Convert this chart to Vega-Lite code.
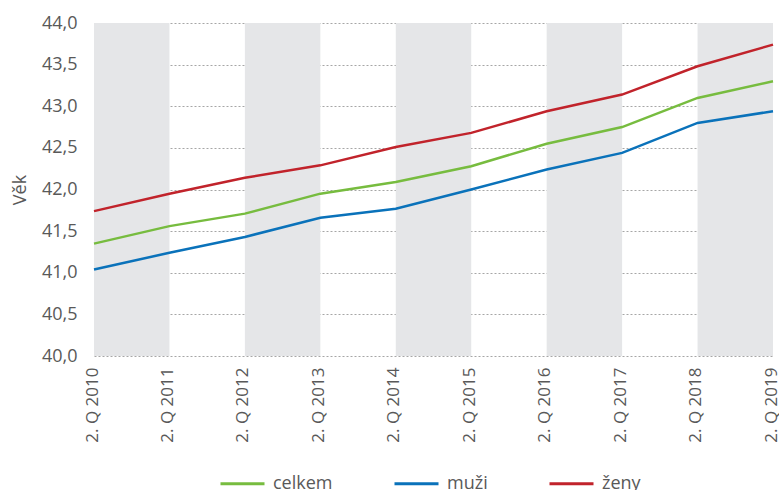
{
  "$schema": "https://vega.github.io/schema/vega-lite/v6.json",
  "width": 679,
  "height": 333,
  "autosize": {"type": "none"},
  "padding": {"left": 94, "top": 23, "right": 6, "bottom": 134},
  "background": "white",
  "config": {
    "view": {"stroke": null},
    "font": "Open Sans",
    "axis": {"labelFont": "Open Sans", "titleFont": "Open Sans", "labelColor": "#595959", "titleColor": "#595959"},
    "legend": {"labelFont": "Open Sans", "labelColor": "#595959"}
  },
  "datasets": {
    "bands": [
      {"start": 2010, "end": 2011},
      {"start": 2012, "end": 2013},
      {"start": 2014, "end": 2015},
      {"start": 2016, "end": 2017},
      {"start": 2018, "end": 2019}
    ],
    "series": [
      {"q": 2010, "serie": "celkem", "v": 41.35},
      {"q": 2011, "serie": "celkem", "v": 41.56},
      {"q": 2012, "serie": "celkem", "v": 41.71},
      {"q": 2013, "serie": "celkem", "v": 41.95},
      {"q": 2014, "serie": "celkem", "v": 42.09},
      {"q": 2015, "serie": "celkem", "v": 42.28},
      {"q": 2016, "serie": "celkem", "v": 42.55},
      {"q": 2017, "serie": "celkem", "v": 42.75},
      {"q": 2018, "serie": "celkem", "v": 43.1},
      {"q": 2019, "serie": "celkem", "v": 43.3},
      {"q": 2010, "serie": "muži", "v": 41.04},
      {"q": 2011, "serie": "muži", "v": 41.24},
      {"q": 2012, "serie": "muži", "v": 41.43},
      {"q": 2013, "serie": "muži", "v": 41.66},
      {"q": 2014, "serie": "muži", "v": 41.77},
      {"q": 2015, "serie": "muži", "v": 42.0},
      {"q": 2016, "serie": "muži", "v": 42.24},
      {"q": 2017, "serie": "muži", "v": 42.44},
      {"q": 2018, "serie": "muži", "v": 42.8},
      {"q": 2019, "serie": "muži", "v": 42.94},
      {"q": 2010, "serie": "ženy", "v": 41.74},
      {"q": 2011, "serie": "ženy", "v": 41.95},
      {"q": 2012, "serie": "ženy", "v": 42.14},
      {"q": 2013, "serie": "ženy", "v": 42.29},
      {"q": 2014, "serie": "ženy", "v": 42.51},
      {"q": 2015, "serie": "ženy", "v": 42.68},
      {"q": 2016, "serie": "ženy", "v": 42.94},
      {"q": 2017, "serie": "ženy", "v": 43.14},
      {"q": 2018, "serie": "ženy", "v": 43.48},
      {"q": 2019, "serie": "ženy", "v": 43.74}
    ]
  },
  "layer": [
    {
      "data": {"name": "bands"},
      "mark": {"type": "rect", "color": "#e5e6e8"},
      "encoding": {
        "x": {"field": "start", "type": "quantitative", "scale": {"domain": [2010, 2019], "nice": false, "zero": false}},
        "x2": {"field": "end"}
      }
    },
    {
      "data": {"name": "series"},
      "mark": {"type": "line", "strokeWidth": 2.5},
      "encoding": {
        "x": {
          "field": "q", "type": "quantitative",
          "scale": {"domain": [2010, 2019], "nice": false, "zero": false},
          "axis": {
            "values": [2010, 2011, 2012, 2013, 2014, 2015, 2016, 2017, 2018, 2019],
            "labelExpr": "'2. Q ' + datum.value",
            "labelAngle": -90, "labelAlign": "right", "labelBaseline": "middle",
            "labelFontSize": 17, "labelPadding": 11, "labelOffset": -2,
            "grid": false, "ticks": false, "domain": false, "title": null
          }
        },
        "y": {
          "field": "v", "type": "quantitative",
          "scale": {"domain": [40, 44], "nice": false, "zero": false},
          "axis": {
            "values": [40, 40.5, 41, 41.5, 42, 42.5, 43, 43.5, 44],
            "labelExpr": "replace(format(datum.value, '.1f'), '.', ',')",
            "labelFontSize": 18, "labelPadding": 17,
            "grid": true, "gridDash": [2, 2], "gridColor": "#a6a6a6", "gridWidth": 1,
            "ticks": false, "domain": false,
            "title": "Věk", "titleFontSize": 18, "titleFontWeight": "normal", "titlePadding": 12
          }
        },
        "color": {
          "field": "serie", "type": "nominal",
          "scale": {"domain": ["celkem", "muži", "ženy"], "range": ["#77bc3f", "#0a72ba", "#c1232b"]},
          "legend": {
            "title": null, "orient": "none", "direction": "horizontal",
            "legendX": 125, "legendY": 437,
            "symbolType": "stroke", "symbolSize": 1936, "symbolStrokeWidth": 3,
            "labelFontSize": 18, "labelOffset": 7, "columnPadding": 55
          }
        }
      }
    }
  ]
}
